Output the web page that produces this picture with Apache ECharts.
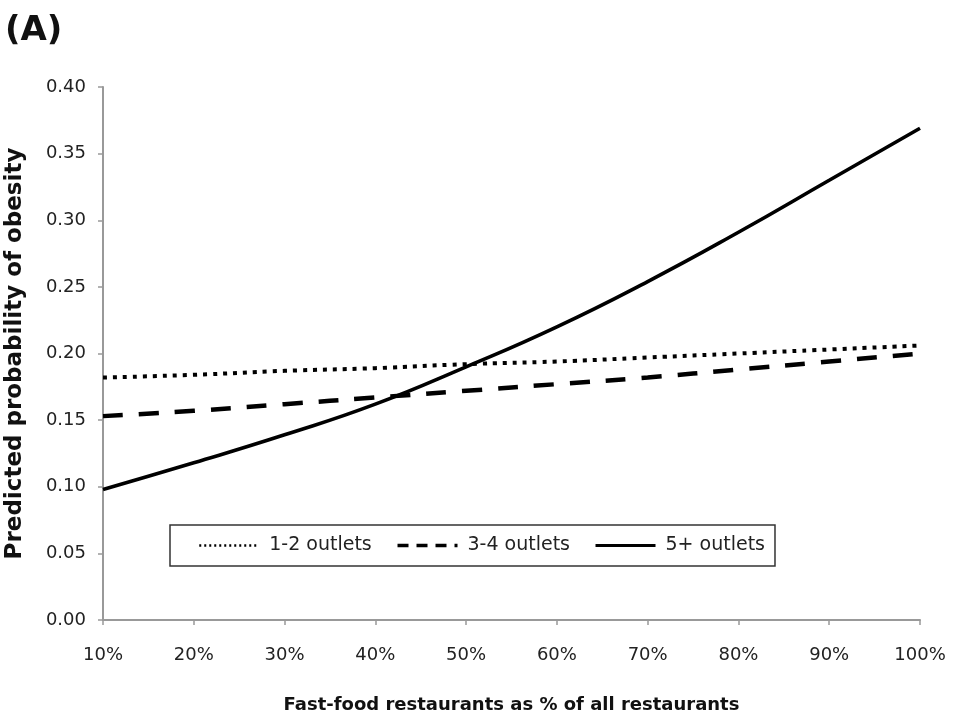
<!DOCTYPE html>
<html>
<head>
<meta charset="utf-8">
<script src="https://cdn.jsdelivr.net/npm/echarts@6/dist/echarts.min.js"></script>
<style>
  html, body { margin: 0; padding: 0; background: #fff; }
  #main { width: 960px; height: 718px; }
</style>
</head>
<body>
<div id="main"></div>
<script>
var myChart = echarts.init(document.getElementById("main"));

// x positions (% fast-food restaurants)
var pctLevels = [10, 20, 30, 40, 50, 60, 70, 80, 90, 100];
// predicted probability
var outlets12 = [0.182, 0.184, 0.187, 0.189, 0.192, 0.194, 0.197, 0.200, 0.203, 0.206];
var outlets34 = [0.153, 0.157, 0.162, 0.167, 0.172, 0.177, 0.182, 0.188, 0.194, 0.200];
var outlets5p = [0.098, 0.118, 0.139, 0.162, 0.190, 0.220, 0.254, 0.291, 0.330, 0.369];
var seriesNames = ['1-2 outlets', '3-4 outlets', '5+ outlets'];

function pairs(vals) {
    return pctLevels.map(function (p, i) { return [p, vals[i]]; });
}

var axisGrey = '#999';
var font = '"DejaVu Sans", sans-serif';

var option = {
    backgroundColor: '#fff',
    textStyle: { fontFamily: font },
    title: {
        text: '(A)',
        left: 0,
        top: 9,
        textStyle: { fontSize: 34, fontWeight: 'bold', color: '#111', fontFamily: font }
    },
    grid: {
        left: 103,
        right: 40,
        top: 87,
        bottom: 98,
        containLabel: false,
        outerBoundsMode: 'none'
    },
    legend: {
        data: [
            { name: seriesNames[0], lineStyle: { type: [2, 3], width: 2.5 } },
            { name: seriesNames[1], lineStyle: { type: [11, 8], width: 3.5 } },
            { name: seriesNames[2], lineStyle: { type: 'solid', width: 3 } }
        ],
        itemStyle: { opacity: 0 },
        left: 170,
        top: 525,
        orient: 'horizontal',
        itemWidth: 60,
        itemHeight: 14,
        itemGap: 24,
        padding: [11, 10, 11, 28],
        borderColor: '#333',
        borderWidth: 1.5,
        textStyle: { fontSize: 19, color: '#222', fontFamily: font, padding: [0, 0, 0, 5] }
    },
    xAxis: {
        type: 'value',
        min: 10,
        max: 100,
        interval: 10,
        name: 'Fast-food restaurants as % of all restaurants',
        nameLocation: 'middle',
        nameGap: 76,
        nameTextStyle: { fontSize: 18, fontWeight: 'bold', color: '#111' },
        axisLine: { show: true, lineStyle: { color: axisGrey, width: 2 } },
        axisTick: { show: true, length: 5, lineStyle: { color: axisGrey, width: 1.5 } },
        axisLabel: {
            fontSize: 18, color: '#222', margin: 26,
            formatter: '{value}%'
        },
        splitLine: { show: false }
    },
    yAxis: {
        type: 'value',
        min: 0,
        max: 0.4,
        interval: 0.05,
        name: 'Predicted probability of obesity',
        nameLocation: 'middle',
        nameGap: 76,
        nameTextStyle: { fontSize: 23, fontWeight: 'bold', color: '#111' },
        axisLine: { show: true, lineStyle: { color: axisGrey, width: 2 } },
        axisTick: { show: true, length: 5, lineStyle: { color: axisGrey, width: 1.5 } },
        axisLabel: {
            fontSize: 18, color: '#222', margin: 17,
            formatter: function (v) { return v.toFixed(2); }
        },
        splitLine: { show: false }
    },
    series: [
        {
            name: seriesNames[0],
            type: 'line',
            data: pairs(outlets12),
            smooth: true,
            symbol: 'none',
            lineStyle: { color: '#000', width: 4, type: [4, 6] },
            itemStyle: { color: '#000' }
        },
        {
            name: seriesNames[1],
            type: 'line',
            data: pairs(outlets34),
            smooth: true,
            symbol: 'none',
            lineStyle: { color: '#000', width: 4.5, type: [20, 16] },
            itemStyle: { color: '#000' }
        },
        {
            name: seriesNames[2],
            type: 'line',
            data: pairs(outlets5p),
            smooth: true,
            symbol: 'none',
            lineStyle: { color: '#000', width: 3.6, type: 'solid' },
            itemStyle: { color: '#000' }
        }
    ]
};

myChart.setOption(option);
</script>
</body>
</html>
